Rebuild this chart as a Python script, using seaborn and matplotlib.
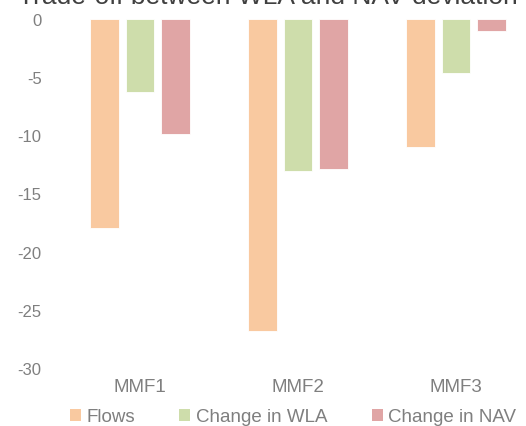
import matplotlib
matplotlib.use("Agg")
import matplotlib.pyplot as plt
import seaborn as sns
import pandas as pd
from matplotlib.patches import Patch

funds = ["MMF1", "MMF2", "MMF3"]
series = ["Flows", "Change in WLA", "Change in NAV"]
flows = [-18.0, -26.8, -11.0]
change_wla = [-6.3, -13.1, -4.6]
change_nav = [-9.9, -12.9, -1.0]
yticks = [0, -5, -10, -15, -20, -25, -30]
colors = ["#F9C9A0", "#CEDDAB", "#E0A5A5"]

rows = []
for s, vals in zip(series, [flows, change_wla, change_nav]):
    for f, v in zip(funds, vals):
        rows.append({"fund": f, "series": s, "value": v})
df = pd.DataFrame(rows)

sns.set_style("white")
plt.rcParams["font.family"] = ["Liberation Sans", "DejaVu Sans"]

fig = plt.figure(figsize=(5.26, 4.27), dpi=100)
x0 = (140 - 158 * 0.5) / 526
w = 158 * 3 / 526
ax = fig.add_axes([x0, 1 - 369 / 427, w, (369 - 20) / 427])

sns.barplot(data=df, x="fund", y="value", hue="series", order=funds,
            hue_order=series, palette=colors, saturation=1, width=0.675,
            gap=0.2, ax=ax, legend=False, edgecolor="white", linewidth=0.6)

ax.set_ylim(-30, 0)
ax.set_xlim(-0.5, 2.5)
ax.set_yticks(yticks)
ax.set_yticklabels([str(t) for t in yticks])
ax.set_xlabel("")
ax.set_ylabel("")
for sp in ax.spines.values():
    sp.set_visible(False)
ax.tick_params(axis="y", length=0, colors="#7F7F7F", labelsize=12, pad=14)
ax.tick_params(axis="x", length=0, colors="#7F7F7F", labelsize=13.5, pad=7)

fig.text(0.51, 1 - 4 / 427, "Trade-off between WLA and NAV deviation",
         ha="center", va="baseline", fontsize=19, color="#404040")

handles = [Patch(facecolor=c, edgecolor="none") for c in colors]
fig.legend(handles, series, loc="center", bbox_to_anchor=(0.557, 1 - 418 / 427),
           ncol=3, frameon=False, fontsize=13.5, labelcolor="#7F7F7F",
           handlelength=0.6, handleheight=0.6, handletextpad=0.3,
           columnspacing=2.35)

fig.savefig("out.png", dpi=100)
